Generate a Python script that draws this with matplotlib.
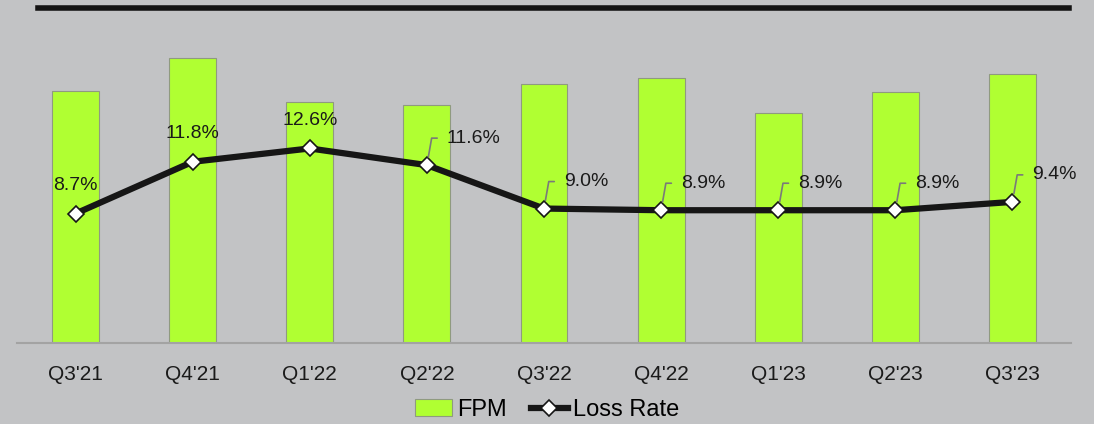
import matplotlib.pyplot as plt
from matplotlib.lines import Line2D

quarters = ["Q3'21", "Q4'21", "Q1'22", "Q2'22", "Q3'22", "Q4'22", "Q1'23", "Q2'23", "Q3'23"]
fpm = [252, 285, 241, 238, 259, 265, 230, 251, 269]
loss_rate = [8.7, 11.8, 12.6, 11.6, 9.0, 8.9, 8.9, 8.9, 9.4]
# labels on the left three sit straight above, the rest use a leader line
label_above = [True, True, True, False, False, False, False, False, False]

BG = '#c2c3c5'
LIME = '#b0ff32'

plt.rcParams['font.family'] = ['Liberation Sans', 'DejaVu Sans']

W, H = 1094, 424
fig = plt.figure(figsize=(W / 100, H / 100), dpi=100, facecolor=BG)
ax1 = fig.add_axes([17 / W, 1 - 342.5 / H, 1054 / W, 322 / H])
ax1.set_facecolor(BG)

x = range(len(quarters))
ax1.bar(x, fpm, width=0.4, color=LIME, edgecolor='#8f9a80', linewidth=0.8,
        label='FPM', zorder=2)
ax1.set_xlim(-0.5, len(quarters) - 0.5)
ax1.set_ylim(0, 322)
ax1.set_xticks(list(x))
ax1.set_xticklabels(quarters, fontsize=15, color='#1a1a1a')
ax1.tick_params(axis='x', length=0, pad=16)
ax1.set_yticks([])
for s in ['top', 'left', 'right']:
    ax1.spines[s].set_visible(False)
ax1.spines['bottom'].set_color('#a3a3a3')
ax1.spines['bottom'].set_linewidth(1.5)

ax2 = ax1.twinx()
ax2.set_ylim(0.98, 20.26)
ax2.set_yticks([])
for s in ax2.spines.values():
    s.set_visible(False)
ax2.plot(x, loss_rate, color='#161616', linewidth=4.5, marker='D', markersize=8.5,
         markerfacecolor='white', markeredgecolor='#161616', markeredgewidth=1.2,
         label='Loss Rate', zorder=3)

for i, v in enumerate(loss_rate):
    txt = f'{v:.1f}%'
    if label_above[i]:
        ax2.annotate(txt, (i, v), xytext=(0, 28), textcoords='offset pixels',
                     ha='center', va='center', fontsize=14, color='#1a1a1a')
    else:
        ax2.annotate(txt, (i, v), xytext=(20, 27), textcoords='offset pixels',
                     ha='left', va='center', fontsize=14, color='#1a1a1a',
                     arrowprops=dict(arrowstyle='-', color='#7a7a7a', lw=1.2,
                                     relpos=(0, 0.5), shrinkA=5, shrinkB=6,
                                     connectionstyle='angle,angleA=0,angleB=80,rad=0'))

# thick rule across the top
fig.add_artist(Line2D([38 / W, 1069 / W], [1 - 8.3 / H, 1 - 8.3 / H],
                      color='#141414', linewidth=4, transform=fig.transFigure))

h1, l1 = ax1.get_legend_handles_labels()
h2, l2 = ax2.get_legend_handles_labels()
fig.legend(h1 + h2, l1 + l2, loc='center', bbox_to_anchor=(0.5, 1 - 410 / H),
           ncol=2, frameon=False, fontsize=17, handlelength=1.6,
           handletextpad=0.2, columnspacing=1.0)

plt.savefig('out.png', dpi=100, facecolor=BG)
